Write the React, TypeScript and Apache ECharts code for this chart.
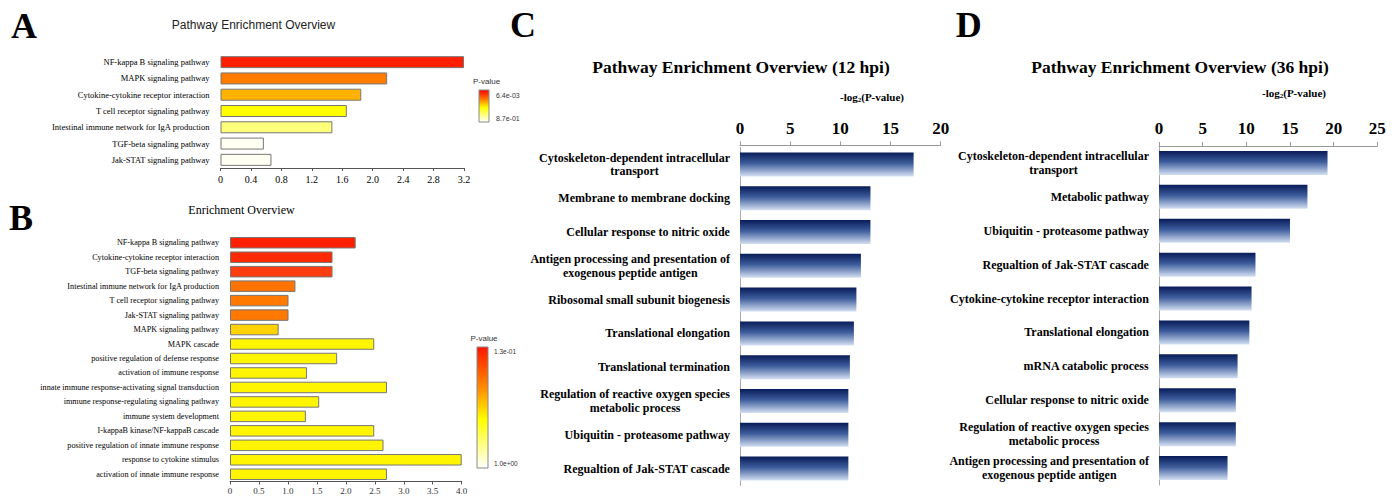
import React, { useEffect, useRef } from 'react';
import * as echarts from 'echarts';

const SERIF = '"Liberation Serif", "Times New Roman", serif';
const SANS = '"Liberation Sans", Arial, sans-serif';

// Panel A
const aTitle = 'Pathway Enrichment Overview';
const aCategories = [
  'NF-kappa B signaling pathway',
  'MAPK signaling pathway',
  'Cytokine-cytokine receptor interaction',
  'T cell receptor signaling pathway',
  'Intestinal immune network for IgA production',
  'TGF-beta signaling pathway',
  'Jak-STAT signaling pathway',
];
const aValues = [3.2, 2.19, 1.85, 1.66, 1.47, 0.57, 0.67];
const aColors = ['#ff1f00', '#ff7c00', '#ffb300', '#ffff00', '#ffff7a', '#fffff2', '#fffff2'];
const aLegendLabels = ['6.4e-03', '8.7e-01'];

// Panel B
const bTitle = 'Enrichment Overview';
const bCategories = [
  'NF-kappa B signaling pathway',
  'Cytokine-cytokine receptor interaction',
  'TGF-beta signaling pathway',
  'Intestinal immune network for IgA production',
  'T cell receptor signaling pathway',
  'Jak-STAT signaling pathway',
  'MAPK signaling pathway',
  'MAPK cascade',
  'positive regulation of defense response',
  'activation of immune response',
  'innate immune response-activating signal transduction',
  'immune response-regulating signaling pathway',
  'immune system development',
  'I-kappaB kinase/NF-kappaB cascade',
  'positive regulation of innate immune response',
  'response to cytokine stimulus',
  'activation of innate immune response',
];
const bValues = [2.17, 1.77, 1.77, 1.13, 1.01, 1.01, 0.84, 2.49, 1.85, 1.33, 2.71, 1.54, 1.31, 2.49, 2.65, 4.0, 2.71];
const bColors = [
  '#ff2000', '#ff2a00', '#ff3c10', '#ff7300', '#ff7800', '#ff7800', '#ffd200',
  '#fff500', '#fff500', '#fff500', '#fff500', '#fff500', '#fff500', '#fff500', '#fff500', '#fff500', '#fff500',
];
const bLegendLabels = ['1.3e-01', '1.0e+00'];

// Panel C
const cTitle = 'Pathway Enrichment Overview (12 hpi)';
const cCategories = [
  'Cytoskeleton-dependent intracellular\ntransport',
  'Membrane to membrane docking',
  'Cellular response to nitric oxide',
  'Antigen processing and presentation of\nexogenous peptide antigen',
  'Ribosomal small subunit biogenesis',
  'Translational elongation',
  'Translational termination',
  'Regulation of reactive oxygen species\nmetabolic process',
  'Ubiquitin - proteasome pathway',
  'Regualtion of Jak-STAT cascade',
];
const cValues = [17.3, 13.0, 13.0, 12.05, 11.6, 11.35, 10.95, 10.8, 10.8, 10.8];

// Panel D
const dTitle = 'Pathway Enrichment Overview (36 hpi)';
const dCategories = [
  'Cytoskeleton-dependent intracellular\ntransport',
  'Metabolic pathway',
  'Ubiquitin - proteasome pathway',
  'Regualtion of Jak-STAT cascade',
  'Cytokine-cytokine receptor interaction',
  'Translational elongation',
  'mRNA catabolic process',
  'Cellular response to nitric oxide',
  'Regulation of reactive oxygen species\nmetabolic process',
  'Antigen processing and presentation of\nexogenous peptide antigen',
];
const dValues = [19.3, 17.0, 15.0, 11.05, 10.6, 10.35, 9.0, 8.8, 8.8, 7.85];

const blueGradient = {
  type: 'linear', x: 0, y: 0, x2: 0, y2: 1,
  colorStops: [
    { offset: 0, color: '#081c58' },
    { offset: 0.45, color: '#3d5c9b' },
    { offset: 1, color: '#d4e0f2' },
  ],
};

function txt(text: string, x: number, y: number, font: string, align = 'center', fill = '#000', extra: any = {}) {
  return {
    type: 'text', x, y, silent: true,
    style: {
      text, font, fill,
      align, textAlign: align,
      verticalAlign: 'middle', textVerticalAlign: 'middle',
      ...extra,
    },
  };
}

function wrapLabel(v: string) {
  return v.split('\n').map((l) => `{c|${l}}`).join('\n');
}

const cdLabel = {
  fontFamily: SERIF, fontWeight: 'bold', fontSize: 12, color: '#000', margin: 10, align: 'right',
  formatter: wrapLabel,
  rich: { c: { align: 'center', fontFamily: SERIF, fontWeight: 'bold', fontSize: 12, color: '#000', lineHeight: 13.5 } },
};

const option: any = {
  animation: false,
  backgroundColor: '#fff',
  grid: [
    { left: 220.5, top: 54, width: 243.5, height: 114 },
    { left: 230, top: 235.5, width: 231.7, height: 246 },
    { left: 740, top: 147.5, width: 200.7, height: 338 },
    { left: 1159, top: 146, width: 218.3, height: 339 },
  ],
  xAxis: [
    {
      gridIndex: 0, type: 'value', min: 0, max: 3.2, interval: 0.4,
      axisLine: { show: true, lineStyle: { color: '#555' } },
      axisTick: { show: true, length: 3, lineStyle: { color: '#555' } },
      splitLine: { show: false },
      axisLabel: { fontFamily: SERIF, fontSize: 10, color: '#000', margin: 6, formatter: (v: number) => (v === 0 ? '0' : v.toFixed(1)) },
    },
    {
      gridIndex: 1, type: 'value', min: 0, max: 4, interval: 0.5,
      axisLine: { show: true, lineStyle: { color: '#555' } },
      axisTick: { show: true, length: 3, lineStyle: { color: '#555' } },
      splitLine: { show: false },
      axisLabel: { fontFamily: SERIF, fontSize: 9, color: '#333', margin: 5, formatter: (v: number) => (v === 0 ? '0' : v.toFixed(1)) },
    },
    {
      gridIndex: 2, type: 'value', position: 'top', min: 0, max: 20, interval: 5, offset: 2,
      axisLine: { show: true, lineStyle: { color: '#999' } },
      axisTick: { show: true, length: 4, lineStyle: { color: '#999' } },
      splitLine: { show: false },
      axisLabel: { fontFamily: SERIF, fontWeight: 'bold', fontSize: 17, color: '#000', margin: 9 },
    },
    {
      gridIndex: 3, type: 'value', position: 'top', min: 0, max: 25, interval: 5,
      axisLine: { show: true, lineStyle: { color: '#999' } },
      axisTick: { show: true, length: 4, lineStyle: { color: '#999' } },
      splitLine: { show: false },
      axisLabel: { fontFamily: SERIF, fontWeight: 'bold', fontSize: 17, color: '#000', margin: 9 },
    },
  ],
  yAxis: [
    {
      gridIndex: 0, type: 'category', inverse: true, data: aCategories,
      axisLine: { show: false }, axisTick: { show: false },
      axisLabel: { fontFamily: SERIF, fontSize: 8.5, color: '#000', margin: 11 },
    },
    {
      gridIndex: 1, type: 'category', inverse: true, data: bCategories,
      axisLine: { show: false }, axisTick: { show: false },
      axisLabel: { fontFamily: SERIF, fontSize: 8.2, color: '#000', margin: 11 },
    },
    {
      gridIndex: 2, type: 'category', inverse: true, data: cCategories,
      axisLine: { show: true, lineStyle: { color: '#aaa' } }, axisTick: { show: false },
      axisLabel: cdLabel,
    },
    {
      gridIndex: 3, type: 'category', inverse: true, data: dCategories,
      axisLine: { show: true, lineStyle: { color: '#aaa' } }, axisTick: { show: false },
      axisLabel: cdLabel,
    },
  ],
  series: [
    {
      type: 'bar', xAxisIndex: 0, yAxisIndex: 0, barWidth: 12,
      itemStyle: { borderColor: '#777', borderWidth: 1 },
      data: aValues.map((v, i) => ({ value: v, itemStyle: { color: aColors[i] } })),
    },
    {
      type: 'bar', xAxisIndex: 1, yAxisIndex: 1, barWidth: 11.5,
      itemStyle: { borderColor: '#777', borderWidth: 1 },
      data: bValues.map((v, i) => ({ value: v, itemStyle: { color: bColors[i] } })),
    },
    {
      type: 'bar', xAxisIndex: 2, yAxisIndex: 2, barWidth: 24,
      itemStyle: { color: blueGradient },
      data: cValues,
    },
    {
      type: 'bar', xAxisIndex: 3, yAxisIndex: 3, barWidth: 24,
      itemStyle: { color: blueGradient },
      data: dValues,
    },
  ],
  graphic: [
    txt('A', 24, 25.5, `bold 36px ${SERIF}`),
    txt('B', 21, 217.5, `bold 36px ${SERIF}`),
    txt('C', 523, 25, `bold 36px ${SERIF}`),
    txt('D', 968.7, 24.7, `bold 36px ${SERIF}`),
    txt(aTitle, 253.5, 25, `12px ${SANS}`, 'center', '#222'),
    txt(bTitle, 241.5, 210, `12px ${SERIF}`, 'center', '#000'),
    txt(cTitle, 741, 67, `bold 17.5px ${SERIF}`),
    txt(dTitle, 1180, 67, `bold 17.5px ${SERIF}`),
    txt('-log{s|2}(P-value)', 872, 97, `bold 11px ${SERIF}`, 'center', '#000', {
      rich: { s: { fontSize: 7, fontWeight: 'bold', fontFamily: SERIF, padding: [5, 0, 0, 0] } },
    }),
    txt('-log{s|2}(P-value)', 1294, 93, `bold 11px ${SERIF}`, 'center', '#000', {
      rich: { s: { fontSize: 7, fontWeight: 'bold', fontFamily: SERIF, padding: [5, 0, 0, 0] } },
    }),
    // Legend A
    txt('P-value', 473, 81, `8px ${SANS}`, 'left', '#333'),
    {
      type: 'rect', shape: { x: 479, y: 90, width: 10, height: 32 }, silent: true,
      style: {
        stroke: '#888', lineWidth: 1,
        fill: {
          type: 'linear', x: 0, y: 0, x2: 0, y2: 1,
          colorStops: [
            { offset: 0, color: '#ff0000' },
            { offset: 0.3, color: '#ff8000' },
            { offset: 0.55, color: '#ffff00' },
            { offset: 1, color: '#ffffff' },
          ],
        },
      },
    },
    txt(aLegendLabels[0], 496, 95, `7px ${SANS}`, 'left', '#333'),
    txt(aLegendLabels[1], 496, 118, `7px ${SANS}`, 'left', '#333'),
    // Legend B
    txt('P-value', 484, 338, `8px ${SANS}`, 'center', '#333'),
    {
      type: 'rect', shape: { x: 477, y: 347, width: 11, height: 121 }, silent: true,
      style: {
        stroke: '#888', lineWidth: 1,
        fill: {
          type: 'linear', x: 0, y: 0, x2: 0, y2: 1,
          colorStops: [
            { offset: 0, color: '#ff1500' },
            { offset: 0.35, color: '#ff9000' },
            { offset: 0.6, color: '#ffff00' },
            { offset: 1, color: '#ffffff' },
          ],
        },
      },
    },
    txt(bLegendLabels[0], 494, 351, `6.5px ${SANS}`, 'left', '#333'),
    txt(bLegendLabels[1], 494, 463, `6.5px ${SANS}`, 'left', '#333'),
  ],
};

export default function App() {
  const ref = useRef<HTMLDivElement>(null);
  useEffect(() => {
    const chart = echarts.init(ref.current!, null, { renderer: 'svg' });
    chart.setOption(option);
    return () => chart.dispose();
  }, []);
  return (
    <div
      ref={ref}
      style={{ position: 'absolute', left: 0, top: 0, width: 1397, height: 498, background: '#fff' }}
    />
  );
}
